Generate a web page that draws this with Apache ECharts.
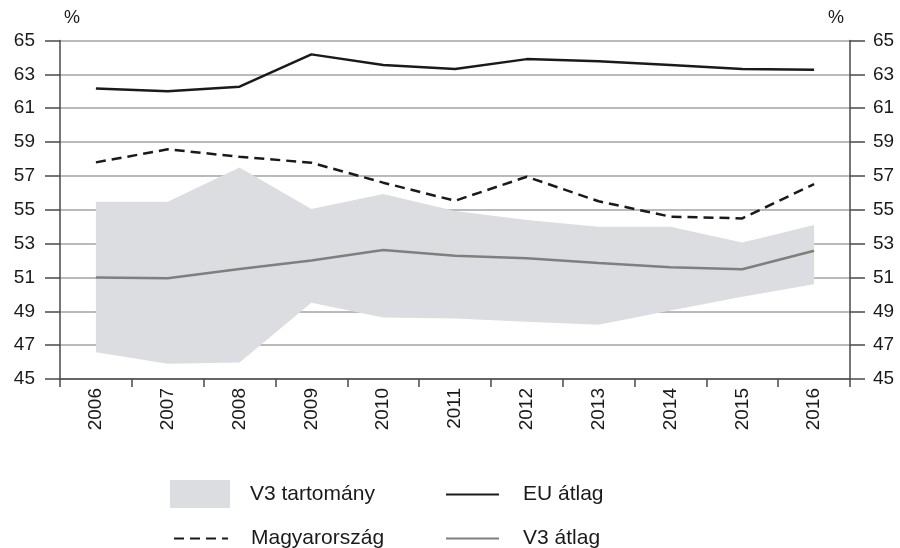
<!DOCTYPE html>
<html>
<head>
<meta charset="utf-8">
<script src="https://cdn.jsdelivr.net/npm/echarts@6/dist/echarts.min.js"></script>
<style>
html,body{margin:0;padding:0;background:#fff;}
#c{width:900px;height:548px;}
</style>
</head>
<body>
<div id="c"></div>
<script>
var categories = ['2006','2007','2008','2009','2010','2011','2012','2013','2014','2015','2016'];
var euAtlag = [62.17, 62.0, 62.27, 64.18, 63.55, 63.31, 63.9, 63.78, 63.55, 63.31, 63.27];
var magyarorszag = [57.8, 58.57, 58.13, 57.78, 56.6, 55.53, 56.95, 55.5, 54.59, 54.49, 56.52];
var v3Atlag = [51.0, 50.95, 51.5, 52.0, 52.62, 52.28, 52.13, 51.86, 51.6, 51.48, 52.58];
var v3Upper = [55.47, 55.47, 57.5, 55.05, 55.93, 54.92, 54.4, 54.0, 54.0, 53.07, 54.1];
var v3Lower = [46.58, 45.9, 45.98, 49.5, 48.64, 48.58, 48.38, 48.2, 49.05, 49.86, 50.6];
var yTicks = [45, 47, 49, 51, 53, 55, 57, 59, 61, 63, 65];

var bandDiff = v3Upper.map(function (u, i) { return +(u - v3Lower[i]).toFixed(2); });

var font = 'Liberation Sans, Arial, sans-serif';
var bandColor = '#dcdde0';
var tickFont = 19;
var legendFont = 21;

function yAxisDef(pos, margin) {
  return {
    type: 'value', position: pos, min: yTicks[0], max: yTicks[yTicks.length - 1], interval: 2,
    axisLine: { show: true, lineStyle: { color: '#4a4a4a', width: 1.5 } },
    axisTick: { show: true, length: 15, lineStyle: { color: '#4a4a4a', width: 1.5 } },
    axisLabel: { margin: margin, color: '#1a1a1a', fontSize: tickFont, fontFamily: font },
    splitLine: { show: pos === 'left', lineStyle: { color: '#a3a3a3', width: 1.5 } }
  };
}

var hiddenSym = { opacity: 0 };
var legendText = function (pad) {
  return { fontSize: legendFont, fontFamily: font, color: '#1a1a1a', padding: [0, 0, 0, pad] };
};

var chart = echarts.init(document.getElementById('c'), null, { renderer: 'canvas' });
chart.setOption({
  animation: false,
  backgroundColor: '#fff',
  grid: { left: 60, right: 50, top: 40.5, bottom: 169, containLabel: false },
  xAxis: {
    type: 'category', data: categories, boundaryGap: true,
    axisLine: { show: true, lineStyle: { color: '#4a4a4a', width: 1.5 } },
    axisTick: { show: true, length: 8, lineStyle: { color: '#4a4a4a', width: 1.5 } },
    axisLabel: { rotate: 90, margin: 9, color: '#1a1a1a', fontSize: tickFont, fontFamily: font },
    splitLine: { show: false }
  },
  yAxis: [yAxisDef('left', 25), yAxisDef('right', 23)],
  legend: [
    { left: 165, top: 475, itemWidth: 60, itemHeight: 28, selectedMode: false,
      textStyle: legendText(15),
      data: [{ name: 'V3 tartomány', icon: 'rect', itemStyle: { color: bandColor, borderWidth: 0 } }] },
    { left: 440, top: 479, itemWidth: 53, itemHeight: 20, selectedMode: false,
      textStyle: legendText(19), itemStyle: hiddenSym,
      data: ['EU átlag'] },
    { left: 168, top: 523, itemWidth: 54, itemHeight: 20, selectedMode: false,
      textStyle: legendText(18), itemStyle: hiddenSym,
      data: ['Magyarország'] },
    { left: 440, top: 523, itemWidth: 53, itemHeight: 20, selectedMode: false,
      textStyle: legendText(19), itemStyle: hiddenSym,
      data: ['V3 átlag'] }
  ],
  graphic: [
    { type: 'text', left: 64, top: 9, style: { text: '%', fontSize: 18, fontFamily: font, fill: '#1a1a1a' } },
    { type: 'text', left: 828, top: 9, style: { text: '%', fontSize: 18, fontFamily: font, fill: '#1a1a1a' } }
  ],
  series: [
    { name: 'band-base', type: 'line', stack: 'band', data: v3Lower, symbol: 'none', silent: true,
      lineStyle: { opacity: 0 }, areaStyle: { opacity: 0 }, z: 1 },
    { name: 'V3 tartomány', type: 'line', stack: 'band', data: bandDiff, symbol: 'none', silent: true,
      itemStyle: { color: bandColor }, lineStyle: { opacity: 0, width: 0 },
      areaStyle: { color: bandColor, opacity: 1 }, z: 1 },
    { name: 'V3 átlag', type: 'line', data: v3Atlag, symbol: 'none',
      itemStyle: { color: '#7f7f7f' }, lineStyle: { color: '#7f7f7f', width: 2.5 }, z: 3 },
    { name: 'Magyarország', type: 'line', data: magyarorszag, symbol: 'none',
      itemStyle: { color: '#1a1a1a' }, lineStyle: { color: '#1a1a1a', width: 2.5, type: [10, 6] }, z: 4 },
    { name: 'EU átlag', type: 'line', data: euAtlag, symbol: 'none',
      itemStyle: { color: '#1a1a1a' }, lineStyle: { color: '#1a1a1a', width: 2.5 }, z: 4 }
  ]
});
</script>
</body>
</html>
